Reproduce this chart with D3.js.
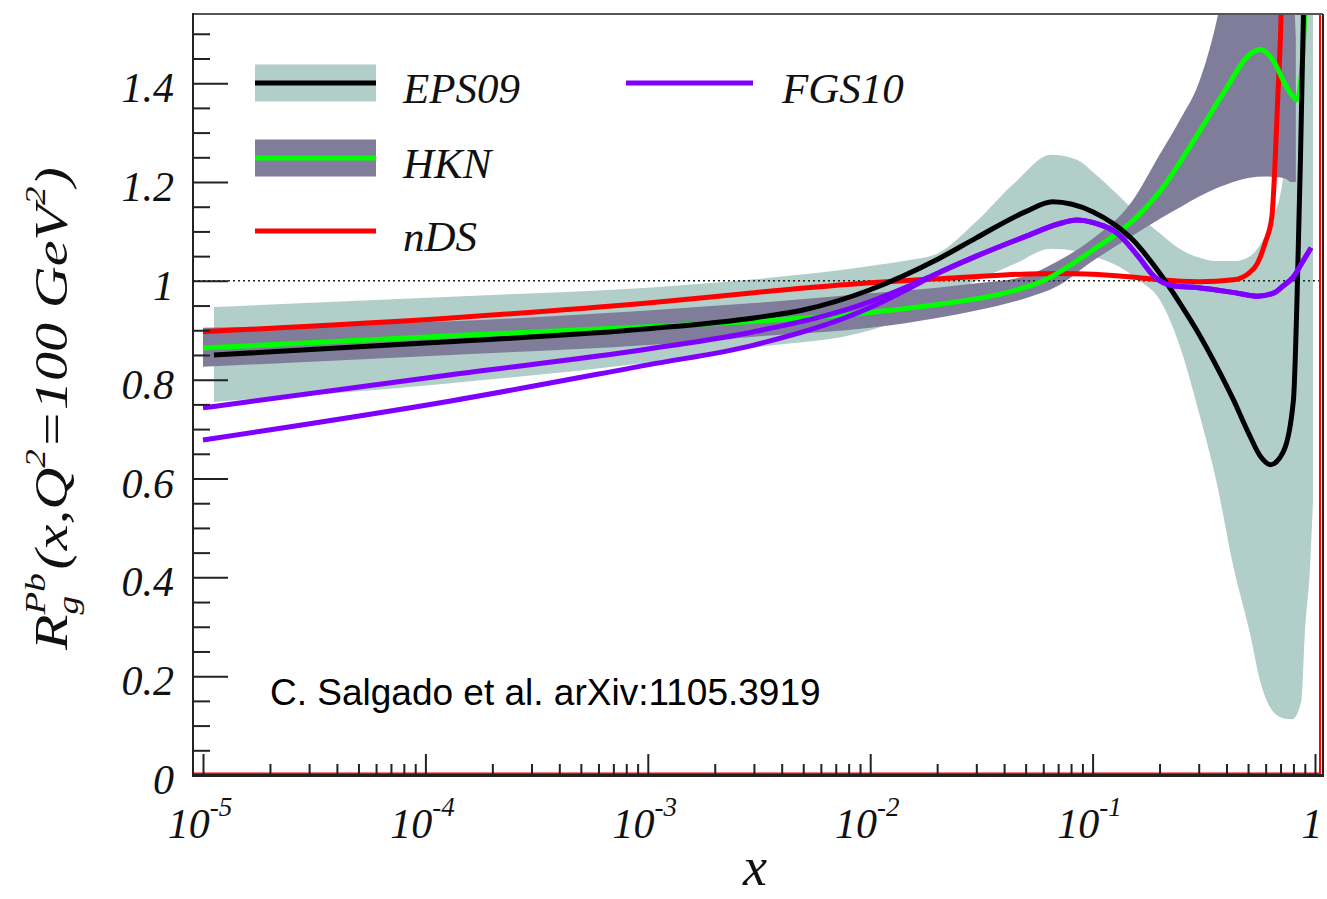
<!DOCTYPE html>
<html><head><meta charset="utf-8">
<script src="https://cdn.jsdelivr.net/npm/d3@7"></script>
<style>body{margin:0;background:#fff} svg{display:block}</style>
</head><body>
<svg id="chart" width="1327" height="899"></svg>
<script>
// ---------------- data ----------------
const eps09X = [1.12e-5, 1e-4, 1e-3, 3e-3, 5e-3, 0.01, 0.02, 0.03, 0.05, 0.066, 0.1, 0.15, 0.2, 0.27, 0.3, 0.36, 0.43, 0.5, 0.57, 0.63, 0.72, 0.8, 0.83, 0.86, 0.89];
const eps09Y = [0.850, 0.874, 0.903, 0.925, 0.941, 0.982, 1.043, 1.087, 1.140, 1.160, 1.140, 1.085, 1.016, 0.927, 0.893, 0.828, 0.759, 0.694, 0.644, 0.628, 0.654, 0.759, 0.962, 1.245, 1.57];

const eps09BandX  = [1.12e-5, 1.3e-4, 1e-3, 3e-3, 0.01, 0.015, 0.02, 0.03, 0.045, 0.065, 0.085, 0.1, 0.13, 0.16, 0.2, 0.25, 0.3, 0.36, 0.43, 0.51, 0.57, 0.63, 0.72, 0.79, 0.87, 0.9, 0.95, 0.98];
const eps09BandHi = [0.947, 0.968, 0.986, 1.003, 1.03, 1.042, 1.055, 1.12, 1.20, 1.255, 1.245, 1.221, 1.174, 1.134, 1.097, 1.063, 1.047, 1.04, 1.04, 1.05, 1.075, 1.115, 1.21, 1.6, 1.9, 2.0, 2.0, 2.0];
const eps09BandLo = [0.755, 0.793, 0.835, 0.865, 0.90, 0.93, 0.96, 1.0, 1.035, 1.065, 1.06, 1.05, 1.03, 1.002, 0.962, 0.86, 0.735, 0.595, 0.421, 0.287, 0.186, 0.136, 0.115, 0.113, 0.152, 0.287, 0.421, 0.557];

const hknX = [1e-5, 1.3e-4, 1e-3, 3e-3, 0.01, 0.02, 0.04, 0.06, 0.1, 0.15, 0.2, 0.3, 0.4, 0.5, 0.566, 0.65, 0.73, 0.79, 0.83, 0.86, 0.885, 0.91];
const hknY = [0.864, 0.889, 0.907, 0.918, 0.936, 0.952, 0.975, 1.0, 1.062, 1.12, 1.18, 1.30, 1.39, 1.455, 1.468, 1.445, 1.40, 1.375, 1.366, 1.40, 1.47, 1.58];

const hknBandX  = [1e-5, 1.3e-4, 1e-3, 3e-3, 0.01, 0.02, 0.03, 0.05, 0.07, 0.1, 0.15, 0.2, 0.25, 0.3, 0.35, 0.4, 0.5, 0.6, 0.7, 0.75, 0.78, 0.82];
const hknBandHi = [0.905, 0.918, 0.94, 0.955, 0.975, 0.986, 0.995, 1.01, 1.04, 1.085, 1.16, 1.255, 1.33, 1.40, 1.50, 1.62, 1.8, 1.9, 1.9, 1.8, 1.7, 1.49];
const hknBandLo = [0.826, 0.850, 0.87, 0.887, 0.905, 0.925, 0.94, 0.965, 0.99, 1.04, 1.09, 1.125, 1.15, 1.17, 1.185, 1.195, 1.208, 1.211, 1.209, 1.205, 1.2, 1.2];

const ndsX = [1e-5, 1.3e-4, 1e-3, 3e-3, 0.01, 0.02, 0.04, 0.07, 0.15, 0.2, 0.3, 0.43, 0.5, 0.55, 0.6, 0.64, 0.66, 0.68, 0.7, 0.71];
const ndsY = [0.897, 0.925, 0.955, 0.976, 0.996, 1.004, 1.012, 1.015, 1.008, 1.002, 0.998, 1.002, 1.014, 1.035, 1.08, 1.13, 1.23, 1.37, 1.50, 1.6];

const fgsX   = [1e-5, 1.3e-4, 1e-3, 3e-3, 0.01, 0.015, 0.02, 0.03, 0.05, 0.07, 0.085, 0.1, 0.13, 0.16, 0.19, 0.23, 0.3, 0.45, 0.55, 0.65, 0.72, 0.8, 0.87, 0.96];
const fgsHiY = [0.743, 0.810, 0.862, 0.897, 0.958, 0.99, 1.015, 1.05, 1.09, 1.115, 1.123, 1.118, 1.095, 1.05, 1.008, 0.99, 0.986, 0.975, 0.969, 0.975, 0.99, 1.008, 1.035, 1.067];
const fgsLoY = [0.678, 0.757, 0.830, 0.870, 0.946, 0.985, 1.015, 1.05, 1.09, 1.115, 1.123, 1.118, 1.095, 1.05, 1.008, 0.99, 0.986, 0.975, 0.969, 0.975, 0.99, 1.008, 1.035, 1.067];

const yMajor = [0, 0.2, 0.4, 0.6, 0.8, 1.0, 1.2, 1.4];
const yMajorLabels = ["0", "0.2", "0.4", "0.6", "0.8", "1", "1.2", "1.4"];
const xMajor = [1e-5, 1e-4, 1e-3, 1e-2, 1e-1, 1];
const xMajorExp = ["-5", "-4", "-3", "-2", "-1", ""];

const legendItems = [
  {name: "EPS09", band: "#b1cfc8", line: "#000000", col: 0, row: 0},
  {name: "HKN",   band: "#7f7d99", line: "#00ff00", col: 0, row: 1},
  {name: "nDS",   band: null,      line: "#ff0000", col: 0, row: 2},
  {name: "FGS10", band: null,      line: "#8000ff", col: 1, row: 0}
];

// ---------------- layout ----------------
const L = 193, R = 1323, T = 14, B = 775;
const svg = d3.select("#chart");
const x = d3.scaleLog().domain([Math.pow(10, -5 - 10/222.4), Math.pow(10, 8/222.4)]).range([L, R]);
const y = d3.scaleLinear().domain([0, 1.54]).range([B, T]);
const serif = "'Liberation Serif','Times New Roman',serif";

svg.append("defs").append("clipPath").attr("id","clip")
  .append("rect").attr("x", L).attr("y", T).attr("width", R - L).attr("height", B - T);
const plot = svg.append("g").attr("clip-path","url(#clip)");

const zip2 = (xs, ys) => xs.map((v,i) => ({x: v, y: ys[i]}));
const zip3 = (xs, lo, hi) => xs.map((v,i) => ({x: v, lo: lo[i], hi: hi[i]}));

const area = d3.area().x(d => x(d.x)).y0(d => y(d.lo)).y1(d => y(d.hi)).curve(d3.curveMonotoneX);
const line = d3.line().x(d => x(d.x)).y(d => y(d.y)).curve(d3.curveMonotoneX);

plot.append("path").attr("d", area(zip3(eps09BandX, eps09BandLo, eps09BandHi))).attr("fill", "#b1cfc8");
plot.append("path").attr("d", area(zip3(hknBandX, hknBandLo, hknBandHi))).attr("fill", "#7f7d99");

// reference line at 1
plot.append("line").attr("x1", L).attr("x2", R - 3).attr("y1", y(1)).attr("y2", y(1))
  .attr("stroke", "#222").attr("stroke-width", 1.5).attr("stroke-dasharray", "2,3");

const lw = 5;
plot.append("path").attr("d", line(zip2(ndsX, ndsY))).attr("fill","none").attr("stroke","#ff0000").attr("stroke-width", lw);
plot.append("path").attr("d", line(zip2(hknX, hknY))).attr("fill","none").attr("stroke","#00ff00").attr("stroke-width", lw);
plot.append("path").attr("d", line(zip2(eps09X, eps09Y))).attr("fill","none").attr("stroke","#000").attr("stroke-width", lw);
plot.append("path").attr("d", line(zip2(fgsX, fgsLoY))).attr("fill","none").attr("stroke","#8000ff").attr("stroke-width", lw);
plot.append("path").attr("d", line(zip2(fgsX, fgsHiY))).attr("fill","none").attr("stroke","#8000ff").attr("stroke-width", lw);

// red edge lines
svg.append("line").attr("x1", L).attr("x2", R - 3).attr("y1", B - 1.5).attr("y2", B - 1.5).attr("stroke", "#ff0000").attr("stroke-width", 2);
svg.append("line").attr("x1", R - 3).attr("x2", R - 3).attr("y1", T).attr("y2", B).attr("stroke", "#ff0000").attr("stroke-width", 2);

// frame
svg.append("line").attr("x1", L).attr("x2", R).attr("y1", T).attr("y2", T).attr("stroke", "#555").attr("stroke-width", 2);
svg.append("line").attr("x1", R).attr("x2", R).attr("y1", T).attr("y2", B).attr("stroke", "#222").attr("stroke-width", 2);
svg.append("line").attr("x1", L).attr("x2", R + 1).attr("y1", B + 0.5).attr("y2", B + 0.5).attr("stroke", "#222").attr("stroke-width", 3);
svg.append("line").attr("x1", L).attr("x2", L).attr("y1", T - 1).attr("y2", B + 2).attr("stroke", "#222").attr("stroke-width", 2);

// y ticks
const yMinor = d3.range(0.05, 1.51, 0.05).filter(v => Math.abs(Math.round(v*5) - v*5) > 1e-6);
const yAxisMajor = d3.axisRight(y).tickValues(yMajor).tickSize(35).tickFormat("");
const yAxisMinor = d3.axisRight(y).tickValues(yMinor).tickSize(17).tickFormat("");
[yAxisMajor, yAxisMinor].forEach(ax => {
  const g = svg.append("g").attr("transform", `translate(${L},0)`).call(ax);
  g.select(".domain").remove();
  g.selectAll("line").attr("stroke", "#222").attr("stroke-width", 2);
});
svg.selectAll(".ylab").data(yMajor).enter().append("text")
  .attr("x", 174).attr("y", d => y(d) + 19)
  .attr("text-anchor", "end").attr("font-family", serif).attr("font-style", "italic")
  .attr("font-size", 42).attr("fill", "#111")
  .text((d,i) => yMajorLabels[i]);

// x ticks
const xMinor = [];
[-5,-4,-3,-2,-1].forEach(e => { for (let k = 2; k <= 9; k++) xMinor.push(k * Math.pow(10, e)); });
const xAxisMajor = d3.axisTop(x).tickValues(xMajor).tickSize(21).tickFormat("");
const xAxisMinor = d3.axisTop(x).tickValues(xMinor).tickSize(11).tickFormat("");
[xAxisMajor, xAxisMinor].forEach(ax => {
  const g = svg.append("g").attr("transform", `translate(0,${B})`).call(ax);
  g.select(".domain").remove();
  g.selectAll("line").attr("stroke", "#222").attr("stroke-width", 2);
});
xMajor.forEach((v, i) => {
  const t = svg.append("text").attr("x", x(v) - 3).attr("y", 838)
    .attr("text-anchor", "middle").attr("font-family", serif).attr("font-style", "italic")
    .attr("font-size", 42).attr("fill", "#111");
  if (xMajorExp[i] === "") { t.text("1"); }
  else {
    t.append("tspan").text("10");
    t.append("tspan").attr("dy", -22).attr("font-size", 27).text(xMajorExp[i]);
  }
});

// x title
svg.append("text").attr("x", 755).attr("y", 885).attr("text-anchor", "middle")
  .attr("font-family", serif).attr("font-style", "italic").attr("font-size", 54).attr("fill", "#111").text("x");

// y title (rotated)
const yt = svg.append("g");
let cx = 0;
function piece(txt, size, dy, advance) {
  const t = yt.append("text").attr("x", cx).attr("y", dy).attr("font-family", serif)
    .attr("font-style", "italic").attr("font-size", size).attr("fill", "#111").text(txt);
  const w = t.node().getComputedTextLength();
  if (advance) cx += w;
  return w;
}
piece("R", 47, 0, true);
const w1 = piece("Pb", 30, -22, false);
const w2 = piece("g", 30, 11, false);
cx += Math.max(w1, w2) + 3;
piece("(x,Q", 47, 0, true);
piece("2", 30, -22, true);
piece("=100 GeV", 47, 0, true);
piece("2", 30, -22, true);
piece(")", 47, 0, true);
const stretch = 483 / cx;
yt.attr("transform", `translate(67,650) rotate(-90) scale(${stretch},1)`);

// annotation
svg.append("text").attr("x", 270).attr("y", 705).attr("font-family", "'Liberation Sans',Arial,sans-serif")
  .attr("font-size", 37).attr("fill", "#000").text("C. Salgado et al. arXiv:1105.3919");

// legend
const colX = [255, 626], colW = [121, 127], textX = [403, 782], rowY = [83, 158, 231];
legendItems.forEach(it => {
  const x0 = colX[it.col], yy = rowY[it.row];
  if (it.band) svg.append("rect").attr("x", x0).attr("y", yy - 18.5).attr("width", colW[it.col]).attr("height", 37).attr("fill", it.band);
  svg.append("line").attr("x1", x0).attr("x2", x0 + colW[it.col]).attr("y1", yy).attr("y2", yy)
    .attr("stroke", it.line).attr("stroke-width", 5);
  svg.append("text").attr("x", textX[it.col]).attr("y", yy + 20).attr("font-family", serif)
    .attr("font-style", "italic").attr("font-size", 43).attr("fill", "#111").text(it.name);
});
</script>
</body></html>
